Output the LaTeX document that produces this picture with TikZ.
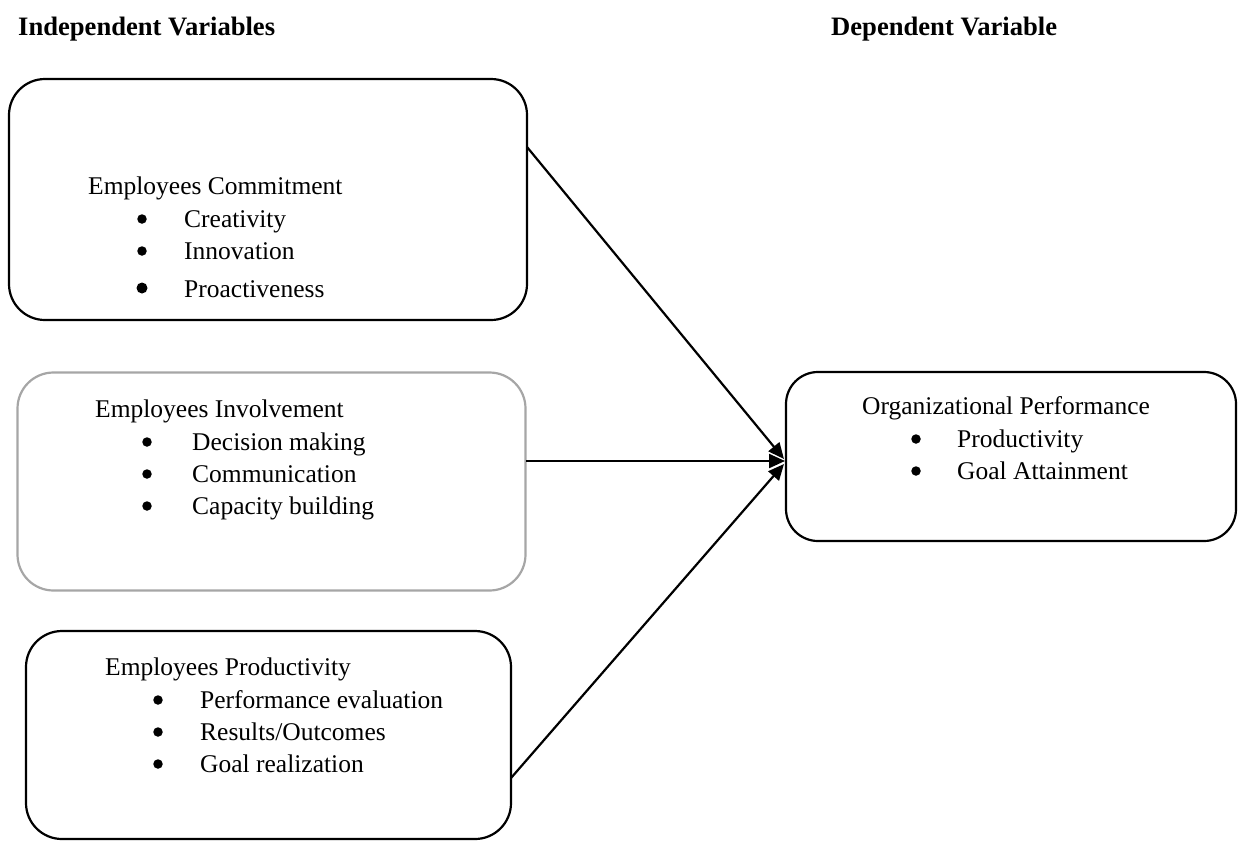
\documentclass[tikz,border=0pt]{standalone}
\usepackage{fontspec}
\setmainfont{Liberation Serif}
\usetikzlibrary{arrows.meta}
\definecolor{boxgray}{HTML}{A6A6A6}
\begin{document}
\begin{tikzpicture}[x=1pt,y=-1pt,
  every node/.style={font=\fontsize{25.5}{30}\selectfont},
  box/.style={draw=black, line width=2.2pt, rounded corners=36pt, inner sep=0pt},
  graybox/.style={box, draw=boxgray},
  txt/.style={anchor=base west, inner sep=0pt},
  ttl/.style={anchor=base west, inner sep=0pt, font=\fontsize{26.6}{30}\selectfont\bfseries},
  bul/.style={circle, fill=black, inner sep=0pt, minimum size=9.5pt},
  arr/.style={line width=2.2pt, -{Triangle[length=16pt,width=14pt]}}]
\useasboundingbox (0,0) rectangle (1242,841);
% titles
\node[ttl] (tind) at (18,35) {Independent Variables};
\node[ttl] (tdep) at (831,35) {Dependent Variable};
% boxes
\node[box, minimum width=518pt, minimum height=241pt] (b1) at (268,199.5) {};
\node[graybox, minimum width=508pt, minimum height=218pt] (b2) at (271.5,481.5) {};
\node[box, minimum width=485pt, minimum height=208pt] (b3) at (268.5,735) {};
\node[box, minimum width=450pt, minimum height=169pt, rounded corners=32pt] (b4) at (1011,456.5) {};
% box 1 text
\node[txt] (h1) at (88,194) {Employees Commitment};
\node[bul] (p11) at (142,219) {};
\node[txt] (t11) at (184,227) {Creativity};
\node[bul] (p12) at (142,251) {};
\node[txt] (t12) at (184,259) {Innovation};
\node[bul, minimum size=11pt] (p13) at (142,288) {};
\node[txt] (t13) at (184,297) {Proactiveness};
% box 2 text
\node[txt] (h2) at (95,417) {Employees Involvement};
\node[bul] (p21) at (147,442) {};
\node[txt] (t21) at (192,450) {Decision making};
\node[bul] (p22) at (147,474) {};
\node[txt] (t22) at (192,482) {Communication};
\node[bul] (p23) at (147,506) {};
\node[txt] (t23) at (192,514) {Capacity building};
% box 3 text
\node[txt] (h3) at (105,675) {Employees Productivity};
\node[bul] (p31) at (158,700) {};
\node[txt] (t31) at (200,708) {Performance evaluation};
\node[bul] (p32) at (158,732) {};
\node[txt] (t32) at (200,740) {Results/Outcomes};
\node[bul] (p33) at (158,764) {};
\node[txt] (t33) at (200,772) {Goal realization};
% box 4 text
\node[txt] (h4) at (862,414) {Organizational Performance};
\node[bul] (p41) at (916,439) {};
\node[txt] (t41) at (957,447) {Productivity};
\node[bul] (p42) at (916,471) {};
\node[txt] (t42) at (957,479) {Goal Attainment};
% connectors
\coordinate (s1) at (527,147);
\coordinate (s2) at (526,461);
\coordinate (s3) at (511,778);
\coordinate (e1) at (784,459);
\coordinate (e2) at (785,461);
\coordinate (e3) at (784,464);
\draw[arr] (s1) -- (e1);
\draw[arr] (s2) -- (e2);
\draw[arr] (s3) -- (e3);
\end{tikzpicture}
\end{document}
